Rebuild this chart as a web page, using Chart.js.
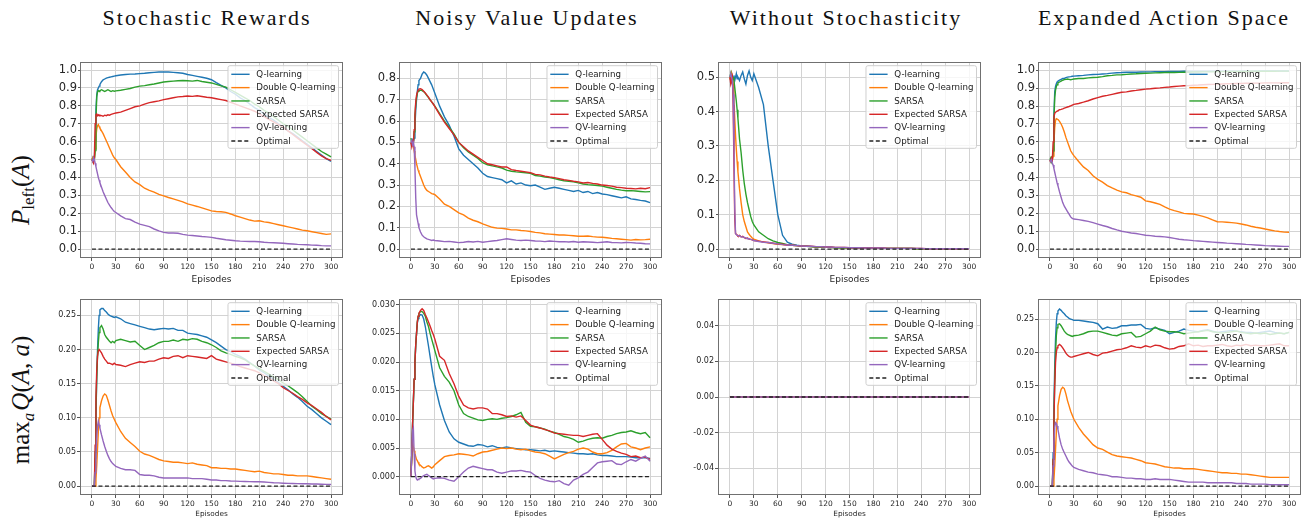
<!DOCTYPE html>
<html>
<head>
<meta charset="utf-8">
<script src="https://cdn.jsdelivr.net/npm/chart.js@4.4.1/dist/chart.umd.min.js"></script>
<style>
  body { margin: 0; background: #fff; }
  #fig { position: relative; width: 1307px; height: 520px; overflow: hidden; background: #fff; }
  #fig canvas { position: absolute; }
  .title { position: absolute; top: 7px; font-family: "Liberation Serif", serif; font-size: 22px; line-height: 22px;
           letter-spacing: 2px; white-space: nowrap; transform: translateX(-50%); color: #111; }
  .ylab { position: absolute; font-family: "Liberation Serif", serif; font-size: 25px; white-space: nowrap;
          transform: translate(-50%, -50%) rotate(-90deg); color: #111; }
  .ylab sub { font-size: 68%; vertical-align: -0.3em; }
</style>
</head>
<body>
<div id="fig">
  <div class="title" style="left:207px">Stochastic Rewards</div>
  <div class="title" style="left:527px">Noisy Value Updates</div>
  <div class="title" style="left:846px">Without Stochasticity</div>
  <div class="title" style="left:1164px">Expanded Action Space</div>
  <div class="ylab" style="left:23px;top:190px"><i>P</i><sub>left</sub>(<i>A</i>)</div>
  <div class="ylab" style="left:23px;top:400px">max<sub><i>a</i></sub>&#8202;<i>Q</i>(<i>A</i>, <i>a</i>)</div>
  <canvas id="c1"></canvas><canvas id="c2"></canvas><canvas id="c3"></canvas><canvas id="c4"></canvas>
  <canvas id="c5"></canvas><canvas id="c6"></canvas><canvas id="c7"></canvas><canvas id="c8"></canvas>
</div>
<script>
const EPISODES = [0,1,2,3,4,5,6,7,8,9,10,
  12,14,16,18,20,22,24,26,28,30,
  36,42,48,54,60,66,72,78,84,90,
  96,102,108,114,120,126,132,138,144,150,
  156,162,168,174,180,186,192,198,204,210,
  216,222,228,234,240,246,252,258,264,270,
  276,282,288,294,300];
const FLAT_EPISODES = [0, 300];
const OPTIMAL = [0, 0];

const NAMES = ['Q-learning', 'Double Q-learning', 'SARSA', 'Expected SARSA', 'QV-learning', 'Optimal'];

const X_TICKS = [0,30,60,90,120,150,180,210,240,270,300];
const P_TICKS_10 = [0,0.1,0.2,0.3,0.4,0.5,0.6,0.7,0.8,0.9,1.0];
const P_TICKS_08 = [0,0.1,0.2,0.3,0.4,0.5,0.6,0.7,0.8];
const P_TICKS_05 = [0,0.1,0.2,0.3,0.4,0.5];
const Q_TICKS_025 = [0,0.05,0.10,0.15,0.20,0.25];
const Q_TICKS_003 = [0,0.005,0.010,0.015,0.020,0.025,0.030];
const Q_TICKS_ZERO = [-0.04,-0.02,0,0.02,0.04];

// ---- P_left(A), stochastic rewards
const srP_q = [0.50,0.51,0.49,0.50,0.60,0.78,0.86,0.89,0.90,0.91,0.92,
  0.935,0.945,0.95,0.955,0.958,0.96,0.962,0.964,0.966,0.968,
  0.972,0.975,0.977,0.978,0.98,0.982,0.985,0.987,0.989,0.99,
  0.989,0.987,0.985,0.982,0.975,0.97,0.965,0.96,0.954,0.946,
  0.93,0.915,0.90,0.88,0.865,0.845,0.83,0.81,0.79,0.775,
  0.755,0.735,0.72,0.70,0.68,0.66,0.645,0.625,0.605,0.585,
  0.565,0.545,0.525,0.505,0.49];
const srP_dq = [0.50,0.51,0.49,0.50,0.56,0.63,0.67,0.69,0.695,0.685,0.675,
  0.66,0.645,0.625,0.605,0.585,0.565,0.545,0.525,0.51,0.50,
  0.46,0.43,0.40,0.375,0.36,0.34,0.328,0.318,0.305,0.297,
  0.288,0.28,0.272,0.264,0.252,0.245,0.238,0.23,0.222,0.213,
  0.21,0.208,0.205,0.196,0.186,0.178,0.17,0.162,0.156,0.158,
  0.152,0.148,0.142,0.136,0.13,0.124,0.118,0.112,0.106,0.102,
  0.097,0.092,0.087,0.082,0.085];
const srP_s = [0.50,0.49,0.51,0.50,0.55,0.72,0.85,0.88,0.885,0.88,0.885,
  0.89,0.885,0.88,0.885,0.89,0.885,0.88,0.885,0.882,0.884,
  0.887,0.892,0.897,0.905,0.91,0.913,0.918,0.922,0.928,0.933,
  0.936,0.938,0.94,0.942,0.94,0.938,0.942,0.936,0.932,0.928,
  0.92,0.912,0.905,0.89,0.875,0.86,0.845,0.83,0.81,0.795,
  0.775,0.76,0.74,0.72,0.70,0.685,0.665,0.645,0.625,0.605,
  0.585,0.565,0.545,0.53,0.515];
const srP_es = [0.50,0.49,0.48,0.51,0.70,0.75,0.755,0.745,0.75,0.745,0.748,
  0.745,0.742,0.748,0.745,0.75,0.748,0.752,0.755,0.758,0.76,
  0.765,0.775,0.785,0.795,0.80,0.81,0.818,0.823,0.828,0.835,
  0.84,0.845,0.85,0.852,0.855,0.853,0.856,0.852,0.848,0.845,
  0.84,0.835,0.83,0.82,0.81,0.80,0.79,0.78,0.77,0.755,
  0.74,0.725,0.71,0.695,0.68,0.66,0.64,0.62,0.60,0.58,
  0.56,0.54,0.52,0.505,0.495];
const srP_qv = [0.50,0.49,0.51,0.50,0.48,0.46,0.44,0.42,0.40,0.385,0.37,
  0.345,0.32,0.30,0.28,0.26,0.245,0.232,0.22,0.21,0.204,
  0.185,0.17,0.165,0.15,0.139,0.132,0.125,0.112,0.102,0.093,
  0.09,0.09,0.088,0.082,0.078,0.076,0.073,0.07,0.068,0.065,
  0.06,0.056,0.052,0.049,0.046,0.044,0.043,0.042,0.042,0.041,
  0.038,0.036,0.035,0.034,0.032,0.03,0.028,0.026,0.025,0.024,
  0.022,0.021,0.019,0.018,0.018];

// ---- P_left(A), noisy value updates
const nvP_q = [0.50,0.49,0.51,0.50,0.52,0.58,0.65,0.70,0.74,0.77,0.79,
  0.80,0.82,0.83,0.825,0.815,0.80,0.785,0.77,0.75,0.73,
  0.67,0.62,0.58,0.53,0.47,0.44,0.42,0.40,0.38,0.355,
  0.34,0.335,0.33,0.325,0.31,0.32,0.305,0.31,0.30,0.297,
  0.30,0.29,0.28,0.285,0.29,0.285,0.28,0.275,0.27,0.275,
  0.265,0.27,0.26,0.265,0.258,0.255,0.25,0.245,0.24,0.245,
  0.235,0.232,0.228,0.225,0.218];
const nvP_dq = [0.50,0.49,0.50,0.48,0.46,0.44,0.42,0.40,0.385,0.37,0.36,
  0.34,0.32,0.30,0.285,0.275,0.27,0.265,0.26,0.258,0.255,
  0.235,0.21,0.20,0.185,0.17,0.16,0.145,0.135,0.128,0.118,
  0.11,0.102,0.098,0.097,0.094,0.09,0.09,0.087,0.085,0.082,
  0.078,0.076,0.072,0.07,0.068,0.066,0.066,0.064,0.062,0.06,
  0.06,0.061,0.058,0.056,0.055,0.053,0.05,0.048,0.046,0.044,
  0.042,0.045,0.043,0.044,0.046];
const nvP_s = [0.52,0.50,0.49,0.50,0.55,0.62,0.68,0.71,0.73,0.74,0.742,
  0.745,0.743,0.738,0.73,0.72,0.71,0.70,0.69,0.68,0.67,
  0.635,0.60,0.57,0.54,0.50,0.475,0.455,0.44,0.425,0.405,
  0.395,0.39,0.385,0.38,0.37,0.365,0.362,0.36,0.358,0.355,
  0.345,0.342,0.338,0.335,0.33,0.325,0.32,0.318,0.315,0.31,
  0.305,0.302,0.30,0.298,0.295,0.29,0.285,0.28,0.276,0.273,
  0.274,0.272,0.27,0.268,0.269];
const nvP_es = [0.50,0.48,0.50,0.49,0.56,0.63,0.69,0.72,0.735,0.745,0.75,
  0.752,0.748,0.74,0.732,0.722,0.712,0.70,0.69,0.68,0.668,
  0.63,0.595,0.565,0.535,0.50,0.48,0.46,0.445,0.43,0.415,
  0.40,0.395,0.39,0.385,0.385,0.372,0.368,0.365,0.362,0.358,
  0.35,0.348,0.342,0.338,0.335,0.33,0.325,0.322,0.318,0.315,
  0.31,0.312,0.308,0.305,0.30,0.298,0.295,0.29,0.288,0.285,
  0.284,0.282,0.285,0.283,0.288];
const nvP_qv = [0.50,0.51,0.49,0.50,0.48,0.38,0.24,0.16,0.14,0.12,0.10,
  0.08,0.065,0.058,0.052,0.048,0.045,0.043,0.04,0.042,0.04,
  0.038,0.035,0.036,0.033,0.03,0.032,0.035,0.033,0.036,0.032,
  0.035,0.038,0.04,0.044,0.048,0.045,0.042,0.04,0.042,0.04,
  0.038,0.037,0.035,0.038,0.036,0.034,0.035,0.033,0.035,0.032,
  0.034,0.033,0.032,0.03,0.032,0.034,0.031,0.03,0.029,0.031,
  0.03,0.028,0.027,0.025,0.024];

// ---- P_left(A), without stochasticity
const wsP_q = [0.50,0.49,0.51,0.50,0.495,0.505,0.49,0.50,0.51,0.495,0.50,
  0.49,0.505,0.515,0.495,0.48,0.505,0.518,0.50,0.49,0.51,
  0.47,0.42,0.30,0.20,0.10,0.04,0.02,0.014,0.011,0.009,
  0.008,0.007,0.006,0.006,0.005,0.005,0.004,0.004,0.004,0.003,
  0.003,0.003,0.003,0.003,0.002,0.002,0.002,0.002,0.002,0.002,
  0.002,0.002,0.002,0.001,0.001,0.001,0.001,0.001,0.001,0.001,
  0.001,0.001,0.001,0.001,0.001];
const wsP_dq = [0.50,0.49,0.51,0.50,0.48,0.43,0.38,0.33,0.29,0.255,0.225,
  0.175,0.135,0.10,0.08,0.065,0.05,0.043,0.037,0.032,0.029,
  0.024,0.02,0.018,0.016,0.014,0.013,0.012,0.011,0.01,0.009,
  0.008,0.007,0.006,0.006,0.005,0.005,0.004,0.004,0.004,0.003,
  0.003,0.003,0.003,0.003,0.002,0.002,0.002,0.002,0.002,0.002,
  0.002,0.002,0.002,0.001,0.001,0.001,0.001,0.001,0.001,0.001,
  0.001,0.001,0.001,0.001,0.001];
const wsP_s = [0.50,0.51,0.49,0.50,0.50,0.49,0.47,0.45,0.43,0.405,0.38,
  0.32,0.28,0.23,0.19,0.16,0.135,0.115,0.095,0.08,0.07,
  0.05,0.04,0.03,0.024,0.019,0.016,0.013,0.011,0.01,0.009,
  0.008,0.007,0.006,0.006,0.005,0.005,0.004,0.004,0.004,0.003,
  0.003,0.003,0.003,0.003,0.002,0.002,0.002,0.002,0.002,0.002,
  0.002,0.002,0.002,0.001,0.001,0.001,0.001,0.001,0.001,0.001,
  0.001,0.001,0.001,0.001,0.001];
const wsP_es = [0.50,0.48,0.49,0.50,0.42,0.25,0.09,0.045,0.043,0.041,0.038,
  0.04,0.035,0.037,0.033,0.031,0.032,0.029,0.028,0.027,0.025,
  0.023,0.021,0.019,0.017,0.015,0.014,0.012,0.011,0.01,0.009,
  0.008,0.008,0.007,0.007,0.006,0.006,0.005,0.005,0.005,0.004,
  0.004,0.004,0.003,0.003,0.003,0.003,0.003,0.002,0.002,0.002,
  0.002,0.002,0.002,0.002,0.002,0.001,0.001,0.001,0.001,0.001,
  0.001,0.001,0.001,0.001,0.001];
const wsP_qv = [0.50,0.51,0.50,0.49,0.45,0.30,0.12,0.045,0.042,0.04,0.04,
  0.038,0.036,0.035,0.034,0.032,0.03,0.03,0.028,0.027,0.025,
  0.022,0.02,0.019,0.017,0.015,0.013,0.012,0.011,0.01,0.009,
  0.008,0.008,0.007,0.007,0.006,0.006,0.005,0.005,0.005,0.004,
  0.004,0.004,0.003,0.003,0.003,0.003,0.003,0.002,0.002,0.002,
  0.002,0.002,0.002,0.002,0.002,0.001,0.001,0.001,0.001,0.001,
  0.001,0.001,0.001,0.001,0.001];

// ---- P_left(A), expanded action space
const eaP_q = [0.50,0.49,0.51,0.50,0.55,0.75,0.88,0.91,0.925,0.935,0.94,
  0.945,0.95,0.955,0.955,0.96,0.962,0.964,0.965,0.967,0.968,
  0.97,0.972,0.975,0.977,0.978,0.98,0.982,0.985,0.987,0.988,
  0.99,0.99,0.99,0.991,0.992,0.992,0.993,0.993,0.993,0.994,
  0.994,0.994,0.995,0.995,0.995,0.995,0.995,0.995,0.996,0.996,
  0.996,0.996,0.996,0.996,0.996,0.996,0.996,0.997,0.997,0.997,
  0.997,0.997,0.997,0.997,0.997];
const eaP_dq = [0.50,0.49,0.51,0.50,0.52,0.60,0.68,0.72,0.73,0.728,0.725,
  0.715,0.70,0.68,0.655,0.625,0.60,0.575,0.55,0.535,0.523,
  0.49,0.46,0.44,0.41,0.39,0.375,0.355,0.342,0.33,0.32,
  0.315,0.305,0.298,0.29,0.27,0.265,0.258,0.25,0.236,0.224,
  0.215,0.208,0.20,0.198,0.196,0.19,0.183,0.175,0.163,0.153,
  0.152,0.15,0.148,0.145,0.14,0.135,0.128,0.122,0.118,0.112,
  0.107,0.102,0.098,0.095,0.094];
const eaP_s = [0.50,0.51,0.49,0.51,0.55,0.72,0.85,0.89,0.91,0.92,0.93,
  0.935,0.94,0.945,0.948,0.95,0.952,0.95,0.948,0.95,0.952,
  0.955,0.955,0.958,0.96,0.962,0.965,0.97,0.972,0.975,0.976,
  0.978,0.98,0.981,0.983,0.984,0.985,0.986,0.987,0.988,0.988,
  0.988,0.989,0.99,0.99,0.991,0.991,0.992,0.992,0.992,0.993,
  0.993,0.993,0.994,0.994,0.994,0.994,0.995,0.995,0.995,0.995,
  0.995,0.995,0.996,0.996,0.996];
const eaP_es = [0.49,0.50,0.51,0.50,0.60,0.74,0.76,0.765,0.77,0.772,0.775,
  0.78,0.782,0.785,0.789,0.792,0.795,0.798,0.802,0.806,0.81,
  0.815,0.822,0.83,0.84,0.848,0.855,0.86,0.866,0.872,0.878,
  0.88,0.885,0.888,0.892,0.895,0.897,0.90,0.902,0.905,0.907,
  0.91,0.912,0.914,0.915,0.917,0.918,0.92,0.921,0.922,0.923,
  0.924,0.925,0.926,0.927,0.927,0.928,0.928,0.929,0.929,0.93,
  0.93,0.93,0.93,0.931,0.931];
const eaP_qv = [0.50,0.49,0.50,0.48,0.47,0.45,0.43,0.41,0.39,0.37,0.355,
  0.32,0.29,0.26,0.24,0.225,0.21,0.195,0.18,0.172,0.168,
  0.165,0.16,0.155,0.148,0.14,0.132,0.125,0.115,0.107,0.10,
  0.095,0.09,0.087,0.082,0.077,0.075,0.072,0.07,0.068,0.065,
  0.06,0.055,0.052,0.05,0.047,0.045,0.043,0.041,0.039,0.037,
  0.035,0.033,0.032,0.03,0.028,0.026,0.025,0.023,0.021,0.019,
  0.018,0.017,0.016,0.015,0.015];

// ---- max_a Q(A,a), stochastic rewards
const srQ_q = [0,0,0,0,0.04,0.10,0.16,0.20,0.23,0.25,0.258,
  0.26,0.26,0.257,0.255,0.252,0.25,0.249,0.248,0.247,0.248,
  0.245,0.24,0.238,0.236,0.234,0.232,0.23,0.229,0.23,0.231,
  0.23,0.231,0.228,0.228,0.224,0.223,0.222,0.22,0.218,0.214,
  0.21,0.205,0.20,0.197,0.193,0.19,0.186,0.181,0.176,0.17,
  0.166,0.161,0.156,0.152,0.146,0.141,0.135,0.13,0.124,0.117,
  0.112,0.106,0.10,0.095,0.09];
const srQ_dq = [0,0,0,0,0,0.01,0.03,0.055,0.08,0.10,0.115,
  0.125,0.132,0.135,0.133,0.126,0.118,0.11,0.103,0.098,0.093,
  0.08,0.07,0.064,0.058,0.051,0.047,0.045,0.042,0.039,0.037,
  0.036,0.035,0.035,0.034,0.033,0.034,0.032,0.031,0.03,0.027,
  0.027,0.026,0.026,0.025,0.025,0.024,0.023,0.022,0.021,0.022,
  0.02,0.019,0.018,0.018,0.017,0.016,0.016,0.015,0.015,0.015,
  0.014,0.013,0.012,0.011,0.01];
const srQ_s = [0,0,0,0,0.05,0.11,0.16,0.19,0.21,0.225,0.232,
  0.235,0.23,0.222,0.218,0.215,0.212,0.21,0.212,0.21,0.213,
  0.215,0.213,0.211,0.212,0.206,0.20,0.203,0.206,0.21,0.212,
  0.212,0.214,0.212,0.215,0.214,0.216,0.215,0.212,0.21,0.207,
  0.203,0.198,0.195,0.193,0.19,0.188,0.185,0.18,0.176,0.172,
  0.168,0.164,0.16,0.156,0.151,0.147,0.142,0.137,0.131,0.124,
  0.117,0.112,0.106,0.102,0.098];
const srQ_es = [0,0,0,0,0.06,0.13,0.17,0.19,0.198,0.20,0.20,
  0.195,0.19,0.186,0.183,0.18,0.18,0.179,0.178,0.18,0.178,
  0.177,0.175,0.178,0.18,0.182,0.181,0.183,0.183,0.186,0.188,
  0.187,0.19,0.191,0.188,0.191,0.19,0.189,0.188,0.187,0.191,
  0.186,0.184,0.182,0.18,0.178,0.175,0.173,0.171,0.169,0.166,
  0.162,0.158,0.154,0.15,0.144,0.14,0.136,0.131,0.127,0.122,
  0.118,0.113,0.108,0.102,0.097];
const srQ_qv = [0,0,0,0,0.02,0.045,0.07,0.088,0.095,0.09,0.085,
  0.075,0.066,0.058,0.051,0.045,0.04,0.036,0.033,0.031,0.029,
  0.026,0.024,0.024,0.023,0.017,0.016,0.016,0.015,0.013,0.012,
  0.012,0.012,0.012,0.012,0.012,0.011,0.011,0.011,0.01,0.009,
  0.009,0.008,0.008,0.0075,0.0073,0.007,0.0068,0.0066,0.0064,0.0063,
  0.006,0.0055,0.005,0.0047,0.0043,0.004,0.0038,0.0037,0.0035,0.0034,
  0.0032,0.003,0.0028,0.0026,0.0024];

// ---- max_a Q(A,a), noisy value updates
const nvQ_q = [0,0.004,0.009,0.013,0.017,0.02,0.023,0.025,0.0268,0.0276,0.028,
  0.0283,0.0282,0.0275,0.0262,0.0245,0.0228,0.021,0.0192,0.0175,0.016,
  0.0125,0.0098,0.0078,0.0066,0.006,0.0057,0.0054,0.0053,0.0056,0.0055,
  0.0052,0.0054,0.0051,0.005,0.0052,0.005,0.0049,0.0048,0.0047,0.0047,
  0.0046,0.0045,0.0046,0.0044,0.0045,0.0044,0.0043,0.0042,0.0041,0.004,
  0.004,0.0039,0.004,0.0038,0.0037,0.0037,0.0036,0.0035,0.0035,0.0035,
  0.0034,0.0033,0.0033,0.0033,0.0032];
const nvQ_dq = [0,0.003,0.006,0.0052,0.0045,0.004,0.0035,0.003,0.0028,0.0025,0.0022,
  0.002,0.0017,0.0015,0.0016,0.0018,0.0019,0.0017,0.0015,0.0017,0.0021,
  0.0028,0.0035,0.0037,0.0038,0.004,0.0039,0.0038,0.0036,0.004,0.0043,
  0.0044,0.0046,0.0048,0.005,0.0049,0.005,0.0048,0.0047,0.0048,0.0045,
  0.0043,0.0042,0.004,0.0036,0.0031,0.0035,0.0039,0.0042,0.0044,0.0048,
  0.005,0.0048,0.0043,0.004,0.004,0.0042,0.0046,0.0052,0.0057,0.0058,
  0.0052,0.005,0.0047,0.005,0.0052];
const nvQ_s = [0,0.004,0.009,0.013,0.017,0.02,0.023,0.025,0.027,0.028,0.0285,
  0.0288,0.0288,0.0285,0.028,0.027,0.0262,0.025,0.024,0.023,0.022,
  0.019,0.0175,0.0165,0.015,0.0125,0.011,0.0105,0.0102,0.0099,0.0098,
  0.01,0.0101,0.01,0.0102,0.0103,0.0105,0.0108,0.0112,0.0095,0.0088,
  0.0087,0.0085,0.0083,0.0079,0.0077,0.0074,0.007,0.0068,0.0065,0.006,
  0.0062,0.0065,0.0067,0.0068,0.0067,0.007,0.0072,0.0075,0.0077,0.0078,
  0.008,0.0077,0.0075,0.0077,0.0068];
const nvQ_es = [0,0.004,0.009,0.013,0.017,0.02,0.023,0.025,0.027,0.028,0.0285,
  0.029,0.0293,0.029,0.0283,0.0277,0.027,0.0263,0.0255,0.0248,0.024,
  0.021,0.0203,0.018,0.0162,0.014,0.0125,0.012,0.0118,0.012,0.012,
  0.0118,0.011,0.011,0.0108,0.0105,0.0106,0.0104,0.0106,0.0098,0.009,
  0.0087,0.0085,0.0082,0.008,0.0076,0.0075,0.0074,0.0073,0.0072,0.0072,
  0.007,0.0072,0.0074,0.0075,0.0065,0.0055,0.0048,0.0044,0.0041,0.0039,
  0.0035,0.0036,0.0033,0.0034,0.003];
const nvQ_qv = [0,0.004,0.008,0.0085,0.004,0.001,0,-0.0004,-0.0006,-0.0005,-0.0004,
  -0.0003,0,0.0002,0.0003,0.0004,0.0002,0,-0.0002,-0.0004,-0.0003,
  -0.0002,-0.0003,-0.0006,-0.0008,0,0.0008,0.0015,0.0018,0.0016,0.0014,
  0.0012,0.0012,0.0008,0.0006,0.0008,0.001,0.001,0.0011,0.0009,0.0008,
  0.0002,-0.0003,-0.0006,-0.0008,-0.0009,-0.0007,-0.0012,-0.0015,-0.0006,-0.0002,
  0.0004,0.0008,0.0016,0.0024,0.0026,0.0027,0.0028,0.0022,0.0021,0.0026,
  0.003,0.0027,0.0032,0.0036,0.0027];

// ---- max_a Q(A,a), without stochasticity (all curves sit on zero)
const wsQ_q = [0, 0];
const wsQ_dq = [0, 0];
const wsQ_s = [0, 0];
const wsQ_es = [0, 0];
const wsQ_qv = [0, 0];

// ---- max_a Q(A,a), expanded action space
const eaQ_q = [0,0,0,0,0.05,0.12,0.18,0.22,0.245,0.258,0.262,
  0.265,0.263,0.26,0.258,0.255,0.253,0.251,0.25,0.249,0.248,
  0.248,0.247,0.246,0.245,0.243,0.235,0.238,0.236,0.237,0.24,
  0.24,0.241,0.241,0.242,0.236,0.235,0.237,0.235,0.233,0.228,
  0.23,0.232,0.235,0.233,0.232,0.231,0.233,0.234,0.232,0.23,
  0.231,0.232,0.233,0.232,0.231,0.23,0.23,0.229,0.23,0.231,
  0.232,0.23,0.229,0.228,0.23];
const eaQ_dq = [0,0,0,0,0,0.01,0.03,0.055,0.08,0.10,0.12,
  0.135,0.145,0.148,0.146,0.138,0.128,0.12,0.112,0.106,0.10,
  0.088,0.078,0.07,0.062,0.057,0.055,0.051,0.047,0.045,0.044,
  0.043,0.042,0.04,0.038,0.035,0.034,0.033,0.031,0.029,0.028,
  0.027,0.027,0.026,0.026,0.026,0.025,0.024,0.023,0.022,0.021,
  0.02,0.02,0.019,0.019,0.018,0.018,0.017,0.016,0.015,0.014,
  0.013,0.013,0.013,0.013,0.013];
const eaQ_s = [0,0,0,0,0.04,0.10,0.16,0.20,0.225,0.237,0.242,
  0.243,0.24,0.236,0.232,0.229,0.227,0.226,0.225,0.224,0.225,
  0.226,0.228,0.231,0.232,0.232,0.23,0.228,0.226,0.225,0.228,
  0.229,0.23,0.223,0.224,0.228,0.232,0.238,0.234,0.232,0.231,
  0.231,0.23,0.228,0.229,0.23,0.231,0.232,0.233,0.231,0.23,
  0.229,0.23,0.231,0.232,0.23,0.229,0.228,0.229,0.228,0.229,
  0.227,0.228,0.229,0.228,0.23];
const eaQ_es = [0,0,0,0,0.04,0.10,0.15,0.185,0.20,0.207,0.21,
  0.212,0.21,0.207,0.203,0.199,0.196,0.194,0.193,0.193,0.194,
  0.196,0.198,0.20,0.197,0.195,0.199,0.20,0.202,0.204,0.205,
  0.207,0.21,0.208,0.207,0.21,0.208,0.211,0.21,0.207,0.205,
  0.206,0.209,0.21,0.213,0.21,0.211,0.209,0.21,0.21,0.211,
  0.212,0.21,0.209,0.211,0.21,0.212,0.21,0.211,0.21,0.21,
  0.211,0.212,0.213,0.21,0.21];
const eaQ_qv = [0,0,0,0,0.03,0.065,0.088,0.095,0.094,0.09,0.085,
  0.072,0.062,0.055,0.05,0.045,0.04,0.036,0.033,0.03,0.028,
  0.025,0.023,0.021,0.02,0.018,0.017,0.016,0.014,0.014,0.013,
  0.012,0.012,0.011,0.011,0.01,0.01,0.011,0.01,0.01,0.01,
  0.009,0.008,0.007,0.006,0.006,0.006,0.006,0.005,0.005,0.005,
  0.005,0.005,0.005,0.004,0.004,0.004,0.003,0.003,0.003,0.003,
  0.002,0.002,0.002,0.002,0.002];

// ---------------- drawing ----------------
const COLORS = ['#1f77b4', '#ff7f0e', '#2ca02c', '#d62728', '#9467bd', '#222222'];
const COL_LEFT = [80, 399, 718, 1038];
const ROW_TOP = [62, 299];
const PLOT_W = 263, PLOT_H = 196;
const Y_W = 40, PAD_TOP = 8, PAD_RIGHT = 5;
const ROW_STYLE = [
  { xh: 30, yTick: 11.5, xTick: 7.5, xTitle: 9, titlePad: 2.6, yTickLen: 2, yPad: 1 },
  { xh: 25, yTick: 8, xTick: 7.5, xTitle: 7.3, titlePad: 1.6, yTickLen: 3, yPad: 1 }
];

const panels = [
  { id: 'c1', row: 0, col: 0, ep: EPISODES, series: [srP_q, srP_dq, srP_s, srP_es, srP_qv], ymin: -0.05, ymax: 1.045, yticks: P_TICKS_10, dec: 1 },
  { id: 'c2', row: 0, col: 1, ep: EPISODES, series: [nvP_q, nvP_dq, nvP_s, nvP_es, nvP_qv], ymin: -0.042, ymax: 0.877, yticks: P_TICKS_08, dec: 1 },
  { id: 'c3', row: 0, col: 2, ep: EPISODES, series: [wsP_q, wsP_dq, wsP_s, wsP_es, wsP_qv], ymin: -0.026, ymax: 0.544, yticks: P_TICKS_05, dec: 1 },
  { id: 'c4', row: 0, col: 3, ep: EPISODES, series: [eaP_q, eaP_dq, eaP_s, eaP_es, eaP_qv], ymin: -0.05, ymax: 1.047, yticks: P_TICKS_10, dec: 1 },
  { id: 'c5', row: 1, col: 0, ep: EPISODES, series: [srQ_q, srQ_dq, srQ_s, srQ_es, srQ_qv], ymin: -0.013, ymax: 0.274, yticks: Q_TICKS_025, dec: 2 },
  { id: 'c6', row: 1, col: 1, ep: EPISODES, series: [nvQ_q, nvQ_dq, nvQ_s, nvQ_es, nvQ_qv], ymin: -0.0032, ymax: 0.031, yticks: Q_TICKS_003, dec: 3 },
  { id: 'c7', row: 1, col: 2, ep: FLAT_EPISODES, series: [wsQ_q, wsQ_dq, wsQ_s, wsQ_es, wsQ_qv], ymin: -0.055, ymax: 0.055, yticks: Q_TICKS_ZERO, dec: 2 },
  { id: 'c8', row: 1, col: 3, ep: EPISODES, series: [eaQ_q, eaQ_dq, eaQ_s, eaQ_es, eaQ_qv], ymin: -0.0133, ymax: 0.280, yticks: Q_TICKS_025, dec: 2 }
];

// axes frame and the boxed legend in the upper right corner
const framePlugin = {
  id: 'frameLegend',
  afterDatasetsDraw(chart) {
    const ctx = chart.ctx, a = chart.chartArea;
    ctx.save();
    ctx.font = '8.7px "DejaVu Sans"';
    let tw = 0;
    NAMES.forEach(t => { tw = Math.max(tw, ctx.measureText(t).width); });
    const w = 3.3 + 18.3 + 6.7 + tw + 3;
    const h = 82.6;
    const x = a.right - 4.5 - w, y = a.top + 3.7;
    ctx.beginPath();
    ctx.roundRect(x, y, w, h, 2);
    ctx.fillStyle = 'rgba(255,255,255,0.8)';
    ctx.fill();
    ctx.lineWidth = 1;
    ctx.strokeStyle = '#cfcfcf';
    ctx.stroke();
    NAMES.forEach((t, i) => {
      const cy = y + 8.6 + i * 13.33;
      ctx.beginPath();
      ctx.setLineDash(i === 5 ? [4, 2.5] : []);
      ctx.strokeStyle = COLORS[i];
      ctx.lineWidth = 1.4;
      ctx.moveTo(x + 3.3, cy);
      ctx.lineTo(x + 21.6, cy);
      ctx.stroke();
      ctx.fillStyle = '#222';
      ctx.textBaseline = 'middle';
      ctx.fillText(t, x + 28.3, cy + 0.5);
    });
    ctx.restore();
  },
  afterDraw(chart) {
    const ctx = chart.ctx, a = chart.chartArea;
    ctx.save();
    ctx.strokeStyle = '#707070';
    ctx.lineWidth = 1;
    ctx.strokeRect(Math.round(a.left) + 0.5, Math.round(a.top) + 0.5,
                   Math.round(a.right - a.left) - 1, Math.round(a.bottom - a.top) - 1);
    ctx.restore();
  }
};

Chart.defaults.font.family = '"DejaVu Sans", sans-serif';
Chart.defaults.color = '#262626';

panels.forEach(p => {
  const st = ROW_STYLE[p.row];
  const cv = document.getElementById(p.id);
  cv.width = Y_W + PLOT_W + PAD_RIGHT;
  cv.height = PAD_TOP + PLOT_H + st.xh;
  cv.style.left = (COL_LEFT[p.col] - Y_W) + 'px';
  cv.style.top = (ROW_TOP[p.row] - PAD_TOP) + 'px';

  const datasets = p.series.map((vals, i) => ({
    label: NAMES[i],
    data: p.ep.map((x, j) => ({ x: x, y: vals[j] })),
    borderColor: COLORS[i],
    borderWidth: 1.4,
    pointRadius: 0,
    tension: 0,
    order: 10 - i
  }));
  datasets.push({
    label: NAMES[5],
    data: FLAT_EPISODES.map((x, j) => ({ x: x, y: OPTIMAL[j] })),
    borderColor: COLORS[5],
    borderDash: [4, 2.5],
    borderWidth: 1.3,
    pointRadius: 0,
    order: 0
  });

  new Chart(cv, {
    type: 'line',
    data: { datasets: datasets },
    options: {
      responsive: false,
      animation: false,
      layout: { padding: { top: PAD_TOP, right: PAD_RIGHT, left: 0, bottom: 0 } },
      plugins: { legend: { display: false }, tooltip: { enabled: false } },
      scales: {
        x: {
          type: 'linear', min: -15, max: 315,
          grid: { color: '#d3d3d3', tickColor: '#555', tickLength: 3 },
          border: { display: false },
          ticks: { font: { size: st.xTick }, padding: 2, maxRotation: 0, callback: v => String(v) },
          title: { display: true, text: 'Episodes', font: { size: st.xTitle }, padding: { top: 0, bottom: st.titlePad } },
          afterBuildTicks: s => { s.ticks = X_TICKS.map(v => ({ value: v })); },
          afterFit: s => { s.height = st.xh; s.paddingLeft = 0; s.paddingRight = 0; }
        },
        y: {
          type: 'linear', min: p.ymin, max: p.ymax,
          grid: { color: '#d3d3d3', tickColor: '#555', tickLength: st.yTickLen },
          border: { display: false },
          ticks: { font: { size: st.yTick }, padding: st.yPad, callback: v => v.toFixed(p.dec) },
          afterBuildTicks: s => { s.ticks = p.yticks.map(v => ({ value: v })); },
          afterFit: s => { s.width = Y_W; s.paddingTop = 0; s.paddingBottom = 0; }
        }
      }
    },
    plugins: [framePlugin]
  });
});
</script>
</body>
</html>
